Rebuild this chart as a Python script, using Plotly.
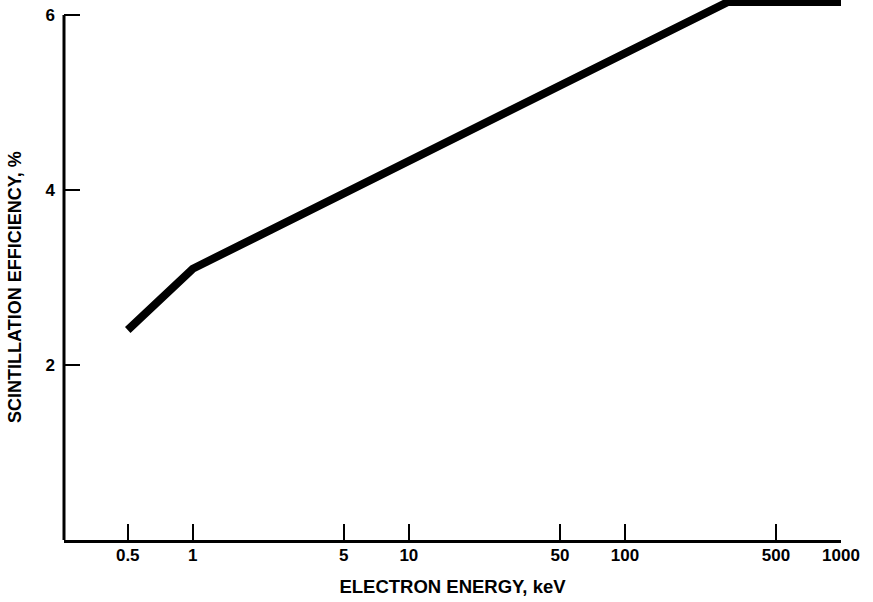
import plotly.graph_objects as go
import math

# Data
energy_kev = [0.5, 1, 300, 1000]
efficiency_pct = [2.4, 3.1, 6.15, 6.15]

x_tick_vals = [0.5, 1, 5, 10, 50, 100, 500, 1000]
x_tick_text = ["0.5", "1", "5", "10", "50", "100", "500", "1000"]
y_tick_vals = [2, 4, 6]
y_tick_text = ["2", "4", "6"]

FONT = "Liberation Sans, Arial, sans-serif"

fig = go.Figure()
fig.add_trace(go.Scatter(
    x=energy_kev, y=efficiency_pct, mode="lines",
    line=dict(color="black", width=8),
    hoverinfo="skip", showlegend=False,
))

fig.update_layout(
    width=873, height=602,
    margin=dict(l=64, r=32, t=0, b=62),
    paper_bgcolor="white", plot_bgcolor="white",
    font=dict(family=FONT, color="black"),
    xaxis=dict(
        type="log",
        range=[math.log10(0.2535), math.log10(1000)],
        tickvals=x_tick_vals, ticktext=x_tick_text,
        ticks="inside", ticklen=16, tickwidth=1.5, tickcolor="black",
        tickfont=dict(size=17, family=FONT, weight="bold"),
        showline=True, linewidth=3, linecolor="black",
        showgrid=False, zeroline=False,
        ticklabelstandoff=-2,
        title=dict(text="ELECTRON ENERGY, keV",
                   font=dict(size=18.5, family=FONT, weight="bold"),
                   standoff=16),
    ),
    yaxis=dict(
        range=[0, 540 / 87.5],
        tickvals=y_tick_vals, ticktext=y_tick_text,
        ticks="inside", ticklen=16, tickwidth=1.5, tickcolor="black",
        tickfont=dict(size=17, family=FONT, weight="bold"),
        showline=False, showgrid=False, zeroline=False,
        ticklabelstandoff=8,
    ),
    shapes=[dict(type="line", xref="paper", yref="y", x0=0, x1=0, y0=0, y1=6,
                 line=dict(color="black", width=3), layer="above")],
    annotations=[dict(text="SCINTILLATION EFFICIENCY, %", xref="paper", yref="paper",
                      x=(15 - 64) / 777, y=(540 - 287) / 540, textangle=-90,
                      showarrow=False, xanchor="center", yanchor="middle",
                      font=dict(size=18, family=FONT, weight="bold", color="black"))],
)

fig.write_html("out.html")
